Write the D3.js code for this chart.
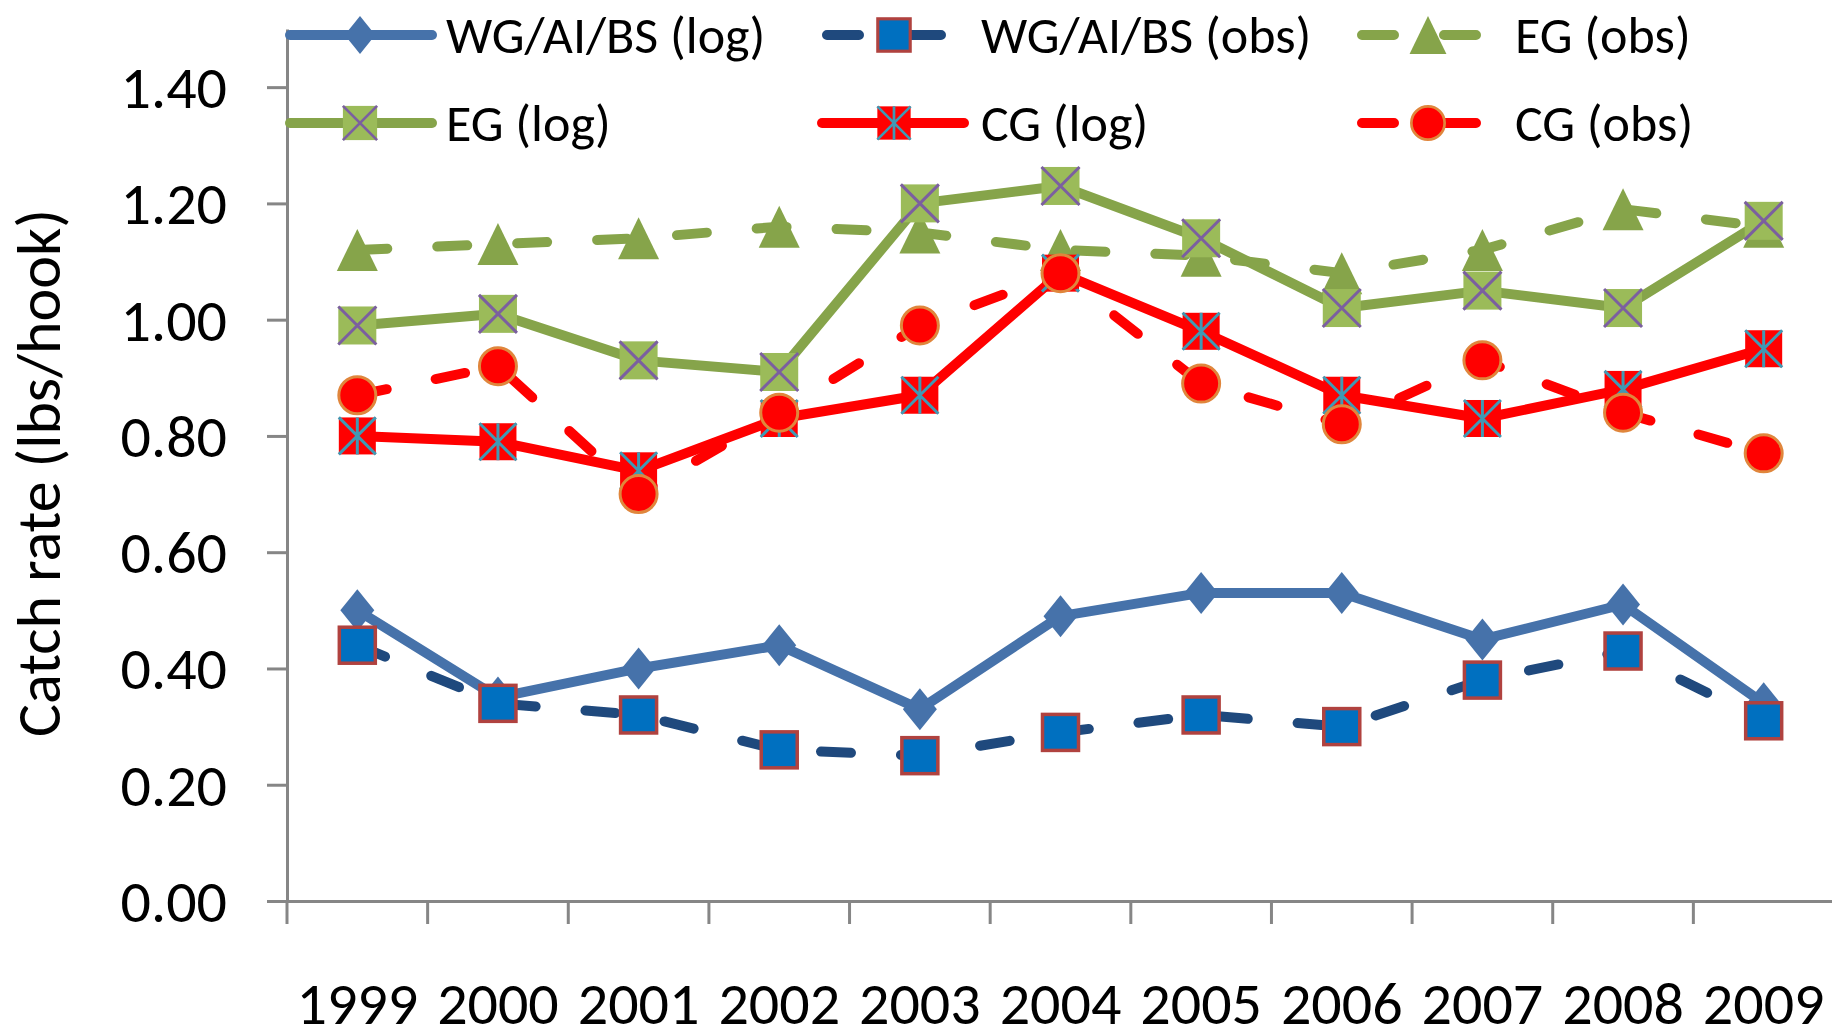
<!DOCTYPE html>
<html>
<head>
<meta charset="utf-8">
<script src="https://cdn.jsdelivr.net/npm/d3@7"></script>
<style>
  body { margin: 0; background: #fff; }
  text { font-family: Carlito, Calibri, Lato, sans-serif; fill: #000; }
</style>
</head>
<body>
<svg id="chart" width="1832" height="1028"></svg>
<script>
// catch rate per year
const years = ['1999', '2000', '2001', '2002', '2003', '2004', '2005', '2006', '2007', '2008', '2009'];
const wgLog = [0.50, 0.35, 0.40, 0.44, 0.33, 0.49, 0.53, 0.53, 0.45, 0.51, 0.34];
const wgObs = [0.44, 0.34, 0.32, 0.26, 0.25, 0.29, 0.32, 0.30, 0.38, 0.43, 0.31];
const egObs = [1.12, 1.13, 1.14, 1.16, 1.15, 1.12, 1.11, 1.08, 1.12, 1.19, 1.16];
const egLog = [0.99, 1.01, 0.93, 0.91, 1.20, 1.23, 1.14, 1.02, 1.05, 1.02, 1.17];
const cgLog = [0.80, 0.79, 0.74, 0.83, 0.87, 1.08, 0.98, 0.87, 0.83, 0.88, 0.95];
const cgObs = [0.87, 0.92, 0.70, 0.84, 0.99, 1.08, 0.89, 0.82, 0.93, 0.84, 0.77];
const yTicks = [0, 0.2, 0.4, 0.6, 0.8, 1.0, 1.2, 1.4];

// drawing order = legend order (later series sit on top)
const series = [
  { name: 'WG/AI/BS (log)', values: wgLog, color: '#4672AA', dashed: false, marker: 'diamond', col: 0, row: 0 },
  { name: 'WG/AI/BS (obs)', values: wgObs, color: '#1F497D', dashed: true, marker: 'bluesquare', col: 1, row: 0 },
  { name: 'EG (obs)', values: egObs, color: '#86A44A', dashed: true, marker: 'triangle', col: 2, row: 0 },
  { name: 'EG (log)', values: egLog, color: '#86A44A', dashed: false, marker: 'xsquare', col: 0, row: 1 },
  { name: 'CG (log)', values: cgLog, color: '#FF0000', dashed: false, marker: 'starsquare', col: 1, row: 1 },
  { name: 'CG (obs)', values: cgObs, color: '#FF0000', dashed: true, marker: 'circle', col: 2, row: 1 }
];

const svg = d3.select('#chart');
const axisColor = '#868686';

const x = d3.scaleBand().domain(years).range([287, 1834]);
const y = d3.scaleLinear().domain([0, 1.5]).range([901, 29]);
const cx = d => x(d) + x.bandwidth() / 2;

// y axis
const yAxis = svg.append('g')
  .attr('transform', 'translate(287,0)')
  .call(d3.axisLeft(y).tickValues(yTicks).tickSize(20).tickSizeOuter(0)
    .tickPadding(40).tickFormat(d3.format('.2f')));
yAxis.select('.domain').attr('stroke', axisColor).attr('stroke-width', 3);
yAxis.selectAll('.tick line').attr('stroke', axisColor).attr('stroke-width', 3);
yAxis.selectAll('.tick text').attr('font-size', 60).attr('font-family', null).attr('dy', '0.34em');

// x axis (ticks sit between the years)
const xAxis = svg.append('g')
  .attr('transform', 'translate(0,901)')
  .call(d3.axisBottom(x).tickSize(0).tickSizeOuter(0).tickPadding(80));
xAxis.select('.domain').attr('stroke', axisColor).attr('stroke-width', 3);
xAxis.selectAll('.tick text').attr('font-size', 60).attr('font-family', null);
svg.append('g').selectAll('line')
  .data(years)
  .join('line')
  .attr('x1', d => x(d)).attr('x2', d => x(d))
  .attr('y1', 901).attr('y2', 924)
  .attr('stroke', axisColor).attr('stroke-width', 3);

// y title
svg.append('text')
  .attr('transform', 'translate(60,473) rotate(-90)')
  .attr('text-anchor', 'middle')
  .attr('font-size', 62)
  .text('Catch rate (lbs/hook)');

function drawMarker(g, type, px, py, k) {
  const m = g.append('g').attr('transform', `translate(${px},${py}) scale(${k})`);
  if (type === 'diamond') {
    m.append('path').attr('d', 'M0,-21L17,0L0,21L-17,0Z').attr('fill', '#4672AA');
  } else if (type === 'bluesquare') {
    m.append('rect').attr('x', -18).attr('y', -18).attr('width', 36).attr('height', 36)
      .attr('fill', '#0070C0').attr('stroke', '#B0423F').attr('stroke-width', 3.5);
  } else if (type === 'triangle') {
    m.append('path').attr('d', 'M0,-21L20.5,21L-20.5,21Z').attr('fill', '#86A44A');
  } else if (type === 'xsquare') {
    m.append('rect').attr('x', -19).attr('y', -19).attr('width', 38).attr('height', 38).attr('fill', '#9BBB59');
    m.append('path').attr('d', 'M-19,-19L19,19M19,-19L-19,19')
      .attr('stroke', '#7B5FA0').attr('stroke-width', 3).attr('fill', 'none');
  } else if (type === 'starsquare') {
    m.append('rect').attr('x', -18.5).attr('y', -18.5).attr('width', 37).attr('height', 37).attr('fill', '#FF0000');
    m.append('path').attr('d', 'M-18.5,-18.5L18.5,18.5M18.5,-18.5L-18.5,18.5M0,-18.5L0,18.5')
      .attr('stroke', '#4099B4').attr('stroke-width', 3).attr('fill', 'none');
  } else if (type === 'circle') {
    m.append('circle').attr('r', 18.5).attr('fill', '#FF0000')
      .attr('stroke', '#E0863C').attr('stroke-width', 3);
  }
}

const line = d3.line().x((d, i) => cx(years[i])).y(d => y(d));
const plot = svg.append('g');

series.forEach(s => {
  const g = plot.append('g');
  g.append('path')
    .attr('d', line(s.values))
    .attr('fill', 'none')
    .attr('stroke', s.color)
    .attr('stroke-width', 10)
    .attr('stroke-linejoin', 'round')
    .attr('stroke-linecap', 'round')
    .attr('stroke-dasharray', s.dashed ? '30,50' : null);
  s.values.forEach((v, i) => drawMarker(g, s.marker, cx(years[i]), y(v), 1));
});

// legend, two rows of three
const legStart = [290, 822, 1357];
const legMarker = [360, 894, 1428];
const legText = [446, 981, 1515];
const legRowY = [35, 123];

const legend = svg.append('g');
series.forEach(s => {
  const g = legend.append('g');
  const ly = legRowY[s.row];
  const x0 = legStart[s.col];
  g.append('line')
    .attr('x1', s.dashed ? x0 + 5 : x0)
    .attr('x2', s.dashed ? x0 + 124 : x0 + 142)
    .attr('y1', ly).attr('y2', ly)
    .attr('stroke', s.color)
    .attr('stroke-width', 10)
    .attr('stroke-linecap', 'round')
    .attr('stroke-dasharray', s.dashed ? '32,50' : null);
  drawMarker(g, s.marker, legMarker[s.col], ly, 0.9);
  g.append('text')
    .attr('x', legText[s.col])
    .attr('y', ly + 18)
    .attr('font-size', 52)
    .text(s.name);
});
</script>
</body>
</html>
